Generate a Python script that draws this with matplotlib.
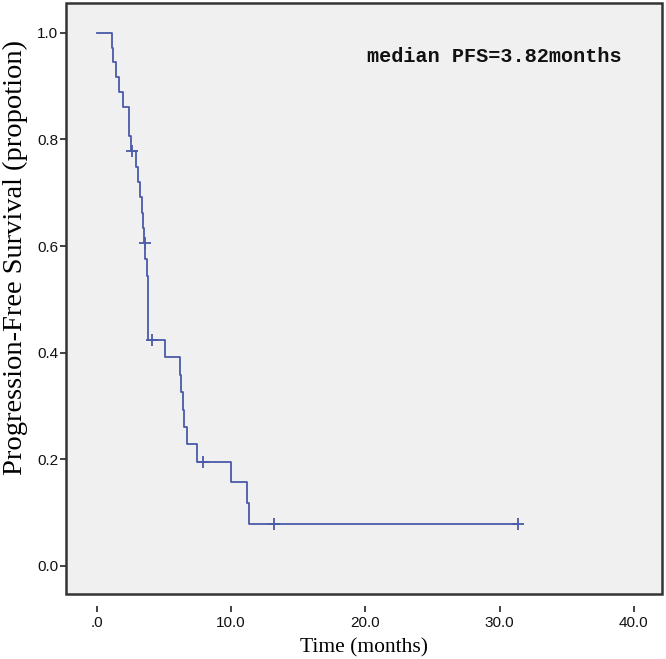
import numpy as np
import matplotlib.pyplot as plt
from matplotlib.patches import Rectangle

# PFS times (months); event=1 progression, 0 censored
times = [1.09, 1.22, 1.42, 1.66, 1.96, 2.38, 2.38, 2.51, 2.60,
         2.95, 3.08, 3.20, 3.33, 3.42, 3.50, 3.55,
         3.62, 3.72, 3.82, 3.82, 3.82, 3.82, 4.07,
         5.10, 6.18, 6.30, 6.45, 6.50, 6.73, 7.47, 7.92,
         9.96, 11.15, 11.32, 13.20, 31.40]
events = [1, 1, 1, 1, 1, 1, 1, 1, 0,
          1, 1, 1, 1, 1, 1, 0,
          1, 1, 1, 1, 1, 1, 0,
          1, 1, 1, 1, 1, 1, 1, 0,
          1, 1, 1, 0, 0]
xticks = [0, 10, 20, 30, 40]
xticklabels = ['.0', '10.0', '20.0', '30.0', '40.0']
yticks = [0.0, 0.2, 0.4, 0.6, 0.8, 1.0]
yticklabels = ['0.0', '0.2', '0.4', '0.6', '0.8', '1.0']

# Kaplan-Meier estimate
t = np.array(times)
e = np.array(events)
step_t = [0.0]
step_s = [1.0]
cens_t = []
cens_s = []
s = 1.0
for u in np.unique(t):
    at_risk = np.sum(t >= u)
    d = np.sum((t == u) & (e == 1))
    c = np.sum((t == u) & (e == 0))
    if d > 0:
        s = s * (1 - d / at_risk)
        step_t.append(u)
        step_s.append(s)
    if c > 0:
        cens_t.append(u)
        cens_s.append(s)
step_t.append(t.max())
step_s.append(s)

line_col = '#4a5ba8'

fig = plt.figure(figsize=(6.66, 6.59), dpi=100)
ax = fig.add_axes([66/666, 1 - 594/659, (662 - 66)/666, (594 - 3)/659])
ax.set_facecolor('#f0f0f0')

ax.step(step_t, step_s, where='post', color=line_col, lw=1.3)
ax.plot(cens_t, cens_s, '+', color=line_col, ms=8, mew=1.3)

ax.set_xlim(-2.3, 42.1)
ax.set_ylim(-0.053, 1.056)

# frame drawn as a patch, x ticks hang below it (SPSS style)
for sp in ax.spines.values():
    sp.set_visible(False)
ax.spines['bottom'].set_position(('outward', 8.5))
ax.add_patch(Rectangle((0, 0), 1, 1, transform=ax.transAxes, fill=False,
                       edgecolor='#333333', lw=1.8, clip_on=False, zorder=5))

ax.set_xticks(xticks)
ax.set_xticklabels(xticklabels)
ax.set_yticks(yticks)
ax.set_yticklabels(yticklabels)
ax.tick_params(axis='both', direction='out', length=4.5, width=1.2,
               labelsize=11, color='#222222', labelcolor='#111111')
ax.tick_params(axis='x', pad=3)
ax.tick_params(axis='y', pad=1)
for lab in ax.get_xticklabels() + ax.get_yticklabels():
    lab.set_family('Liberation Sans')

ax.set_xlabel('Time (months)', family='Liberation Serif', fontsize=15.5, labelpad=6)
ax.set_ylabel('Progression-Free Survival (propotion)', family='Liberation Serif',
              fontsize=20.5)
ax.yaxis.set_label_coords(-0.064, 0.57)

ax.text(0.505, 0.909, 'median PFS=3.82months', transform=ax.transAxes,
        family='Liberation Mono', fontweight='bold', fontsize=14.5,
        va='center', ha='left', color='#111111')

fig.savefig('out.png', dpi=100)
